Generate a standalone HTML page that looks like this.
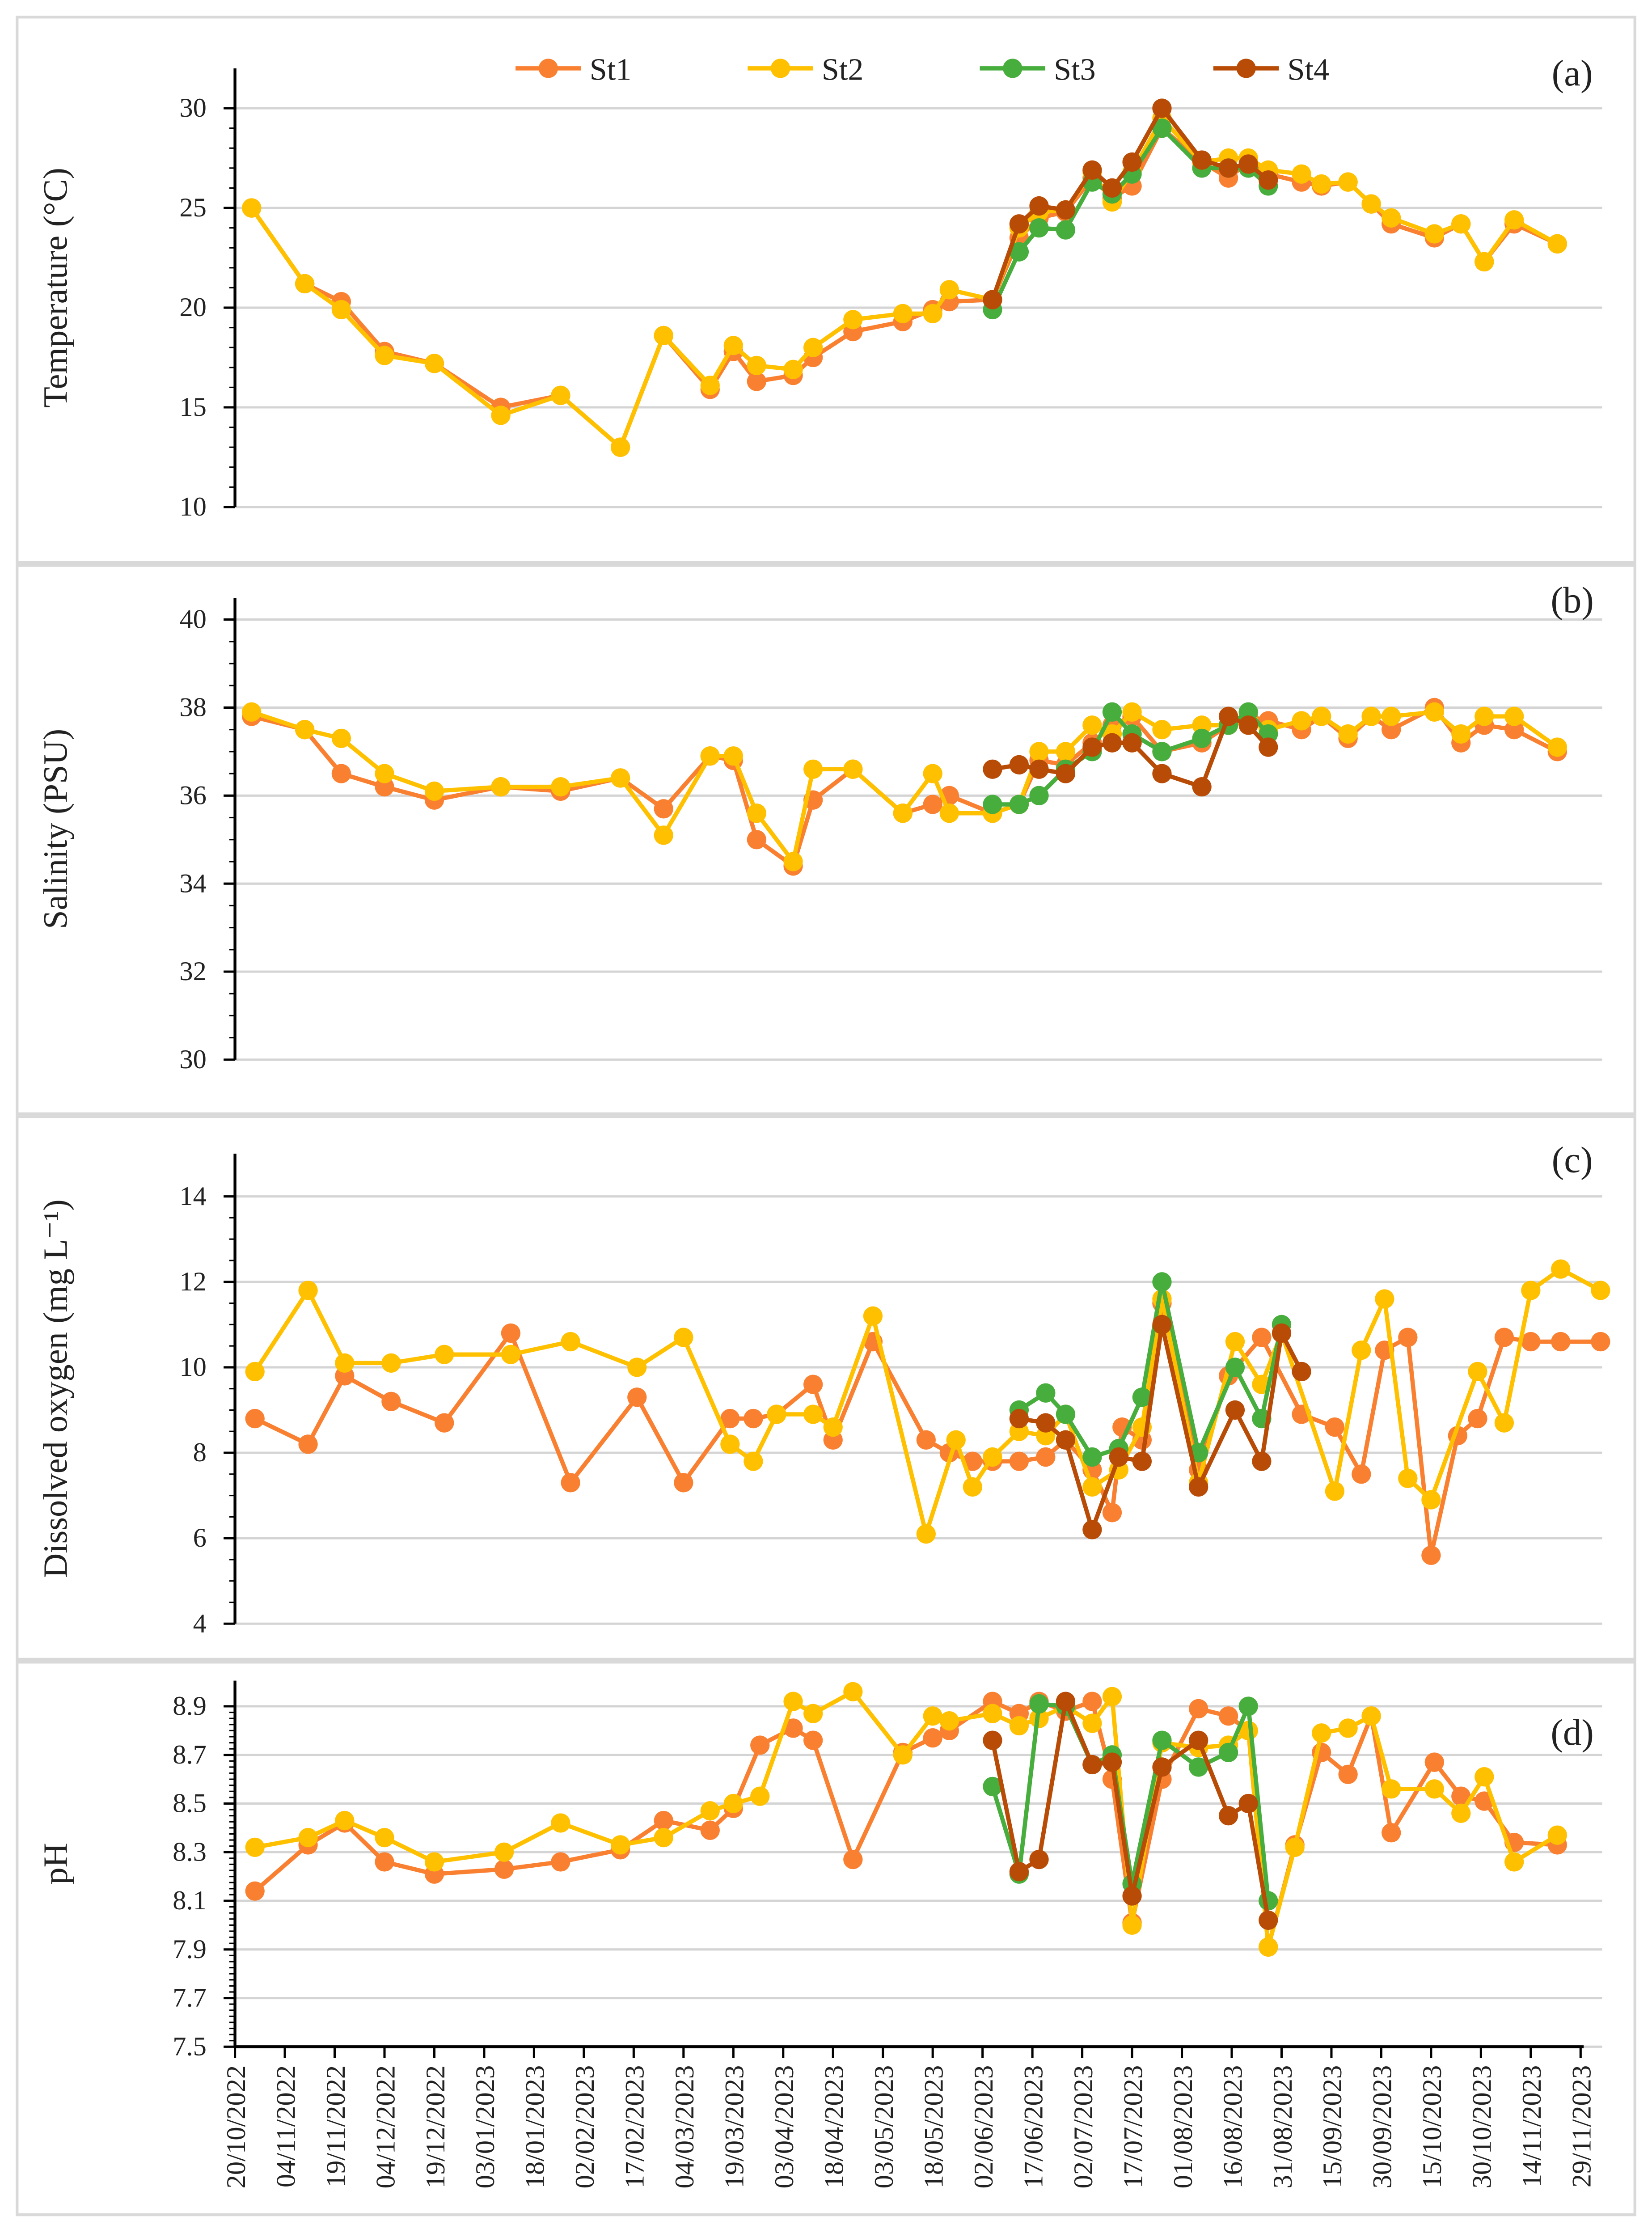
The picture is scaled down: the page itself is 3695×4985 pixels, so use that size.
<!DOCTYPE html>
<html><head><meta charset="utf-8"><style>
html,body{margin:0;padding:0;background:#fff;}
svg{display:block;}
text{font-family:"Liberation Serif","Times New Roman",serif;fill:#222;}
</style></head>
<body>
<svg id="chart" width="3695" height="4985" viewBox="0 0 1160 1565" preserveAspectRatio="none" xmlns="http://www.w3.org/2000/svg"></svg>
<script>
// ---- x axis (days since 20/10/2022) ----
const xTickLabels = ["20/10/2022","04/11/2022","19/11/2022","04/12/2022","19/12/2022","03/01/2023","18/01/2023","02/02/2023","17/02/2023","04/03/2023","19/03/2023","03/04/2023","18/04/2023","03/05/2023","18/05/2023","02/06/2023","17/06/2023","02/07/2023","17/07/2023","01/08/2023","16/08/2023","31/08/2023","15/09/2023","30/09/2023","15/10/2023","30/10/2023","14/11/2023","29/11/2023"];
const xTickDays = [0,15,30,45,60,75,90,105,120,135,150,165,180,195,210,225,240,255,270,285,300,315,330,345,360,375,390,405];

// ---- sample days ----
const daysMain = [5,21,32,45,60,80,98,116,129,143,150,157,168,174,186,201,210,215,228,236,242,250,258,264,270,279,291,299,305,311,321,327,335,342,348,361,369,376,385,398];
const daysSt34 = [228,236,242,250,258,264,270,279,291,299,305,311];

// ---- (a) temperature ----
const tempSt1 = [25.0,21.2,20.3,17.8,17.2,15.0,15.6,13.0,18.6,15.9,17.8,16.3,16.6,17.5,18.8,19.3,19.9,20.3,20.4,23.5,24.5,24.8,26.5,25.5,26.1,29.0,27.3,26.5,27.3,26.7,26.3,26.1,26.3,25.2,24.2,23.5,24.2,22.3,24.2,23.2];
const tempSt2 = [25.0,21.2,19.9,17.6,17.2,14.6,15.6,13.0,18.6,16.1,18.1,17.1,16.9,18.0,19.4,19.7,19.7,20.9,20.4,24.0,24.8,24.9,26.8,25.3,26.8,29.5,27.3,27.5,27.5,26.9,26.7,26.2,26.3,25.2,24.5,23.7,24.2,22.3,24.4,23.2];
const tempSt3 = [19.9,22.8,24.0,23.9,26.3,25.7,26.7,29.0,27.0,27.0,27.0,26.1];
const tempSt4 = [20.4,24.2,25.1,24.9,26.9,26.0,27.3,30.0,27.4,27.0,27.2,26.4];

// ---- (b) salinity ----
const salSt1 = [37.8,37.5,36.5,36.2,35.9,36.2,36.1,36.4,35.7,36.9,36.8,35.0,34.4,35.9,36.6,35.6,35.8,36.0,35.6,35.8,36.8,36.7,37.2,37.6,37.8,37.0,37.2,37.6,37.8,37.7,37.5,37.8,37.3,37.8,37.5,38.0,37.2,37.6,37.5,37.0];
const salSt2 = [37.9,37.5,37.3,36.5,36.1,36.2,36.2,36.4,35.1,36.9,36.9,35.6,34.5,36.6,36.6,35.6,36.5,35.6,35.6,35.8,37.0,37.0,37.6,37.4,37.9,37.5,37.6,37.6,37.7,37.5,37.7,37.8,37.4,37.8,37.8,37.9,37.4,37.8,37.8,37.1];
const salSt3 = [35.8,35.8,36.0,36.6,37.0,37.9,37.4,37.0,37.3,37.6,37.9,37.4];
const salSt4 = [36.6,36.7,36.6,36.5,37.1,37.2,37.2,36.5,36.2,37.8,37.6,37.1];

// ---- (c) dissolved oxygen ----
const doDaysSt1 = [6,22,33,47,63,83,101,121,135,149,156,163,174,180,192,208,215,222,228,236,244,250,258,264,267,273,279,290,299,309,321,331,339,346,353,360,368,374,382,390,399,411];
const doSt1 = [8.8,8.2,9.8,9.2,8.7,10.8,7.3,9.3,7.3,8.8,8.8,8.9,9.6,8.3,10.6,8.3,8.0,7.8,7.8,7.8,7.9,8.3,7.6,6.6,8.6,8.3,11.5,7.6,9.8,10.7,8.9,8.6,7.5,10.4,10.7,5.6,8.4,8.8,10.7,10.6,10.6,10.6];
const doDaysSt2 = [6,22,33,47,63,83,101,121,135,149,156,163,174,180,192,208,217,222,228,236,244,250,258,266,273,279,290,301,309,315,331,339,346,353,360,374,382,390,399,411];
const doSt2 = [9.9,11.8,10.1,10.1,10.3,10.3,10.6,10.0,10.7,8.2,7.8,8.9,8.9,8.6,11.2,6.1,8.3,7.2,7.9,8.5,8.4,8.9,7.2,7.6,8.6,11.6,7.3,10.6,9.6,10.8,7.1,10.4,11.6,7.4,6.9,9.9,8.7,11.8,12.3,11.8];
const doDaysSt3 = [236,244,250,258,266,273,279,290,301,309,315];
const doSt3 = [9.0,9.4,8.9,7.9,8.1,9.3,12.0,8.0,10.0,8.8,11.0];
const doDaysSt4 = [236,244,250,258,266,273,279,290,301,309,315,321];
const doSt4 = [8.8,8.7,8.3,6.2,7.9,7.8,11.0,7.2,9.0,7.8,10.8,9.9];

// ---- (d) pH ----
const phDays = [6,22,33,45,60,81,98,116,129,143,150,158,168,174,186,201,210,215,228,236,242,250,258,264,270,279,290,299,305,311,319,327,335,342,348,361,369,376,385,398];
const phSt1 = [8.14,8.33,8.42,8.26,8.21,8.23,8.26,8.31,8.43,8.39,8.48,8.74,8.81,8.76,8.27,8.71,8.77,8.80,8.92,8.87,8.92,8.88,8.92,8.60,8.01,8.60,8.89,8.86,8.80,7.91,8.33,8.71,8.62,8.86,8.38,8.67,8.53,8.51,8.34,8.33];
const phSt2 = [8.32,8.36,8.43,8.36,8.26,8.30,8.42,8.33,8.36,8.47,8.50,8.53,8.92,8.87,8.96,8.70,8.86,8.84,8.87,8.82,8.85,8.90,8.83,8.94,8.00,8.75,8.73,8.74,8.80,7.91,8.32,8.79,8.81,8.86,8.56,8.56,8.46,8.61,8.26,8.37];
const phDaysSt34 = [228,236,242,250,258,264,270,279,290,299,305,311];
const phSt3 = [8.57,8.21,8.91,8.90,8.66,8.70,8.17,8.76,8.65,8.71,8.90,8.10];
const phSt4 = [8.76,8.22,8.27,8.92,8.66,8.67,8.12,8.65,8.76,8.45,8.50,8.02];

const stations = ["St1","St2","St3","St4"];
const colors = ["#F98031","#FFC000","#47AD3C","#B84B05"];

const NS = "http://www.w3.org/2000/svg";
const svg = document.getElementById("chart");
function el(tag, attrs, parent){ const e=document.createElementNS(NS,tag); for(const k in attrs) e.setAttribute(k,attrs[k]); (parent||svg).appendChild(e); return e; }
const X0 = 165, PXD = 2.333;
function xScale(d){ return X0 + d*PXD; }

const panels = [
 {id:"a", title:"Temperature (°C)", top:12, bottom:395, yTop:48, min:10, max:30, yMin:356, yMax:76, step:5, minor:1, dec:0, tag:"(a)", tagY:60,
  series:[[daysMain,tempSt1],[daysMain,tempSt2],[daysSt34,tempSt3],[daysSt34,tempSt4]]},
 {id:"b", title:"Salinity (PSU)", top:397, bottom:782, yTop:420, min:30, max:40, yMin:744, yMax:435, step:2, minor:0.5, dec:0, tag:"(b)", tagY:430,
  series:[[daysMain,salSt1],[daysMain,salSt2],[daysSt34,salSt3],[daysSt34,salSt4]]},
 {id:"c", title:"Dissolved oxygen (mg L\u207B\u00B9)", top:784, bottom:1165, yTop:810, min:4, max:14, yMin:1140, yMax:840, step:2, minor:0.5, dec:0, tag:"(c)", tagY:823,
  series:[[doDaysSt1,doSt1],[doDaysSt2,doSt2],[doDaysSt3,doSt3],[doDaysSt4,doSt4]]},
 {id:"d", title:"pH", top:1167, bottom:1555, yTop:1180, min:7.5, max:8.9, yMin:1437, yMax:1198, step:0.2, minor:0.025, dec:1, tag:"(d)", tagY:1225,
  series:[[phDays,phSt1],[phDays,phSt2],[phDaysSt34,phSt3],[phDaysSt34,phSt4]]}
];

panels.forEach(p=>{
  const g = el("g",{});
  
  
  const fr = el("rect",{x:12,y:p.top,width:1136,height:p.bottom-p.top,fill:"none",stroke:"#d9d9d9","stroke-width":2},g);
  
  
  const ys = v => p.yMin + (v-p.min)*(p.yMax-p.yMin)/(p.max-p.min);
  const nMaj = Math.round((p.max-p.min)/p.step);
  for(let i=0;i<=nMaj;i++){
    const v = p.min + i*p.step, y = ys(v);
    const gl = el("line",{x1:X0,x2:1125,y1:y,y2:y,stroke:"#d4d4d4","stroke-width":1.6},g);
    
    
    el("line",{x1:X0-8,x2:X0,y1:y,y2:y,stroke:"#000","stroke-width":1.6},g);
    const t = el("text",{x:X0-20,y:y+6,"text-anchor":"end","font-size":19},g);
    t.textContent = v.toFixed(p.dec);
    
    
  }
  const nMin = Math.round((p.max-p.min)/p.minor);
  for(let i=0;i<=nMin;i++){ const y=ys(p.min+i*p.minor); el("line",{x1:X0-4,x2:X0,y1:y,y2:y,stroke:"#000","stroke-width":1},g); }
  const ax = el("line",{x1:X0,x2:X0,y1:p.yTop,y2:p.yMin,stroke:"#000","stroke-width":2},g);
  
  
  const cy = (p.yTop+p.yMin)/2;
  const tt = el("text",{x:0,y:0,"text-anchor":"middle","font-size":24,transform:`translate(47,${cy}) rotate(-90)`},g);
  tt.textContent = p.title;
  
  
  const tg = el("text",{x:1104,y:p.tagY,"text-anchor":"middle","font-size":26},g);
  tg.textContent = p.tag;
  
  
  p.series.forEach((s,si)=>{
    const [days,vals] = s;
    const pts = days.map((d,i)=>[xScale(d),ys(vals[i])]);
    const pl = el("polyline",{points:pts.map(q=>q.join(",")).join(" "),fill:"none",stroke:colors[si],"stroke-width":3,"stroke-linejoin":"round"},g);
    
    
    pts.forEach(q=>{
      const c = el("circle",{cx:q[0],cy:q[1],r:6.8,fill:colors[si]},g);
      
      
    });
  });
});

// x axis on panel d
const xa = el("line",{x1:X0,x2:1112,y1:1437,y2:1437,stroke:"#000","stroke-width":2});


xTickDays.forEach((d,i)=>{
  const x = xScale(d);
  el("line",{x1:x,x2:x,y1:1437,y2:1445,stroke:"#000","stroke-width":1.6});
  const t = el("text",{x:0,y:0,"text-anchor":"end","font-size":19,transform:`translate(${x+7},1450) rotate(-90)`});
  t.textContent = xTickLabels[i];
  
  
});

// legend
const legX = [362,525,688,852];
stations.forEach((s,i)=>{
  const lg = el("g",{});
  
  
  el("line",{x1:legX[i],x2:legX[i]+46,y1:48,y2:48,stroke:colors[i],"stroke-width":3},lg);
  el("circle",{cx:legX[i]+23,cy:48,r:6.8,fill:colors[i]},lg);
  const t = el("text",{x:legX[i]+52,y:56,"font-size":22},lg);
  t.textContent = s;
});
</script>
</body></html>
